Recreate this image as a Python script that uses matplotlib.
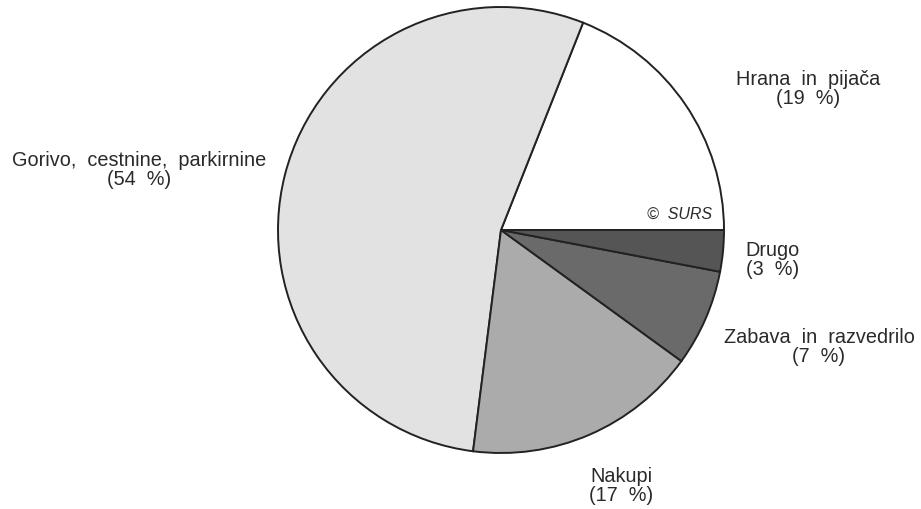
import matplotlib
matplotlib.use("Agg")
import matplotlib.pyplot as plt

categories = ["Hrana  in  pijača", "Gorivo,  cestnine,  parkirnine", "Nakupi", "Zabava  in  razvedrilo", "Drugo"]
values = [19, 54, 17, 7, 3]
colors = ["#ffffff", "#e2e2e2", "#ababab", "#6a6a6a", "#555555"]

W, H = 921, 509
fig = plt.figure(figsize=(W / 100, H / 100), dpi=100)
ax = fig.add_axes([0, 0, 1, 1])

cx, cy, r = 501, H - 230, 223
ax.pie(values, colors=colors, startangle=0, counterclock=True,
       center=(cx, cy), radius=r, frame=True,
       wedgeprops=dict(edgecolor="#222222", linewidth=1.4))
ax.set_xlim(0, W)
ax.set_ylim(0, H)
ax.set_aspect("equal")
ax.axis("off")

font = dict(family=["Liberation Sans", "DejaVu Sans"], fontsize=14.3, color="#2a2a2a")
label_pos = [
    (808, 89, "center"),
    (139, 170, "center"),
    (621, 486, "center"),
    (819, 347, "center"),
    (745, 260, "left"),
]
for cat, v, (x, y, ha) in zip(categories, values, label_pos):
    ax.text(x, H - y, f"{cat}\n({v}  %)", ha=ha, va="center", linespacing=0.95,
            multialignment="center", **font)

ax.text(712, H - 214, "©  SURS", ha="right", va="center", style="italic",
        family=["Liberation Sans", "DejaVu Sans"], fontsize=11.5, color="#2a2a2a")

fig.savefig("out.png", dpi=100)
